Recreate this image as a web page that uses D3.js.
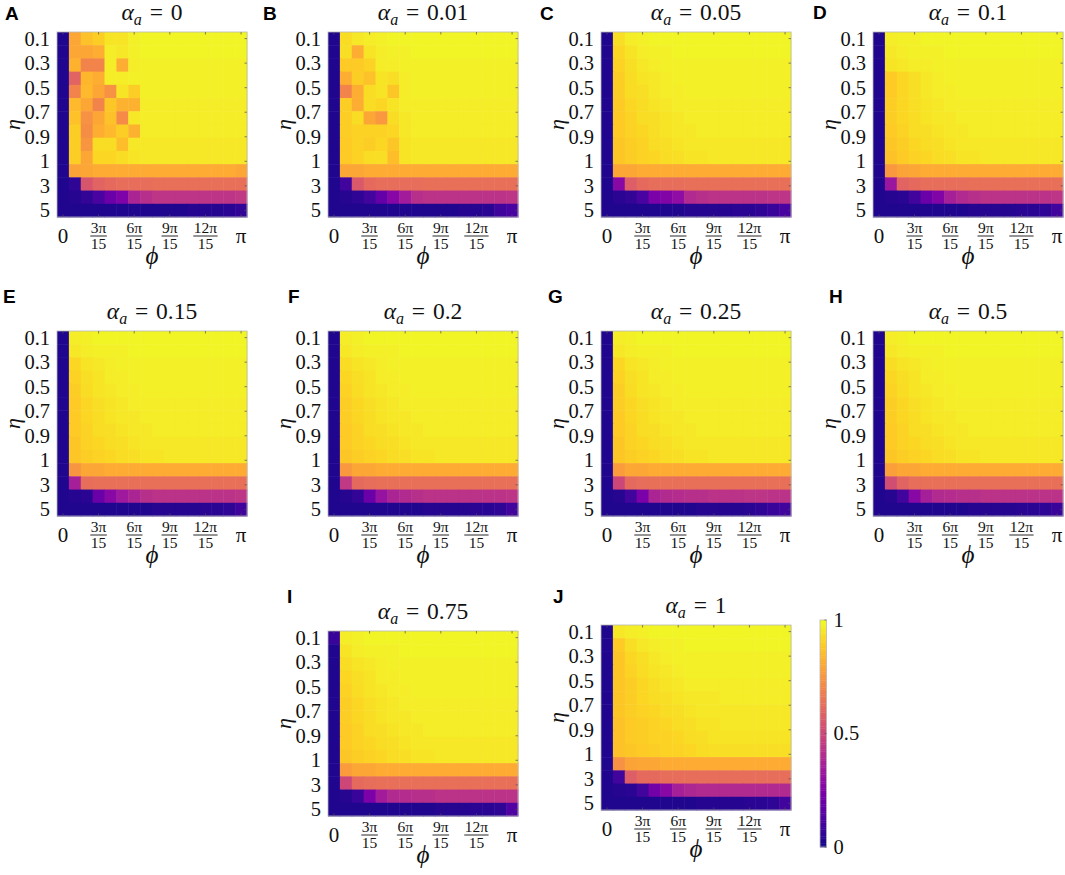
<!DOCTYPE html>
<html><head><meta charset="utf-8">
<script src="https://cdn.jsdelivr.net/npm/d3@7"></script>
<style>body{margin:0;background:#fff} svg{display:block}</style>
</head><body>
<svg id="chart" width="1065" height="875"></svg>
<script>
// ---------------- data ----------------
const panelLetters = ["A","B","C","D","E","F","G","H","I","J"];
const alphaLabels = ["0","0.01","0.05","0.1","0.15","0.2","0.25","0.5","0.75","1"];
const etaTickLabels = ["0.1","0.3","0.5","0.7","0.9","1","3","5"];
const phiTickCols = [0,3,6,9,12,15];
const phiTickNum = ["0","3π","6π","9π","12π","π"];
const phiTickDen = [null,"15","15","15","15",null];
const colorbarTicks = [0,0.5,1];
const colorbarLabels = ["0","0.5","1"];

// values in percent, rows = eta (top to bottom), cols = phi (0..pi)
const dataA = [
[3,80,87,90,95,95,98,99,99,99,99,99,99,99,99,99],
[3,80,80,82,97,96,98,99,99,99,99,99,99,99,99,99],
[3,83,70,70,97,82,97,98,98,98,98,98,98,98,98,98],
[3,60,84,82,97,97,98,98,98,98,98,98,98,98,98,98],
[3,70,85,80,74,95,90,98,98,98,98,98,98,98,98,98],
[3,85,80,70,88,83,83,97,97,97,97,97,97,97,97,97],
[3,87,74,80,87,72,96,97,97,97,97,97,97,97,97,97],
[3,90,73,82,85,90,83,97,97,97,97,97,97,97,97,97],
[3,90,75,93,93,86,96,96,96,96,96,96,96,96,96,96],
[3,90,80,92,92,93,95,96,96,96,96,96,96,96,96,96],
[3,79,80,81,81,81,81,81,81,81,81,81,81,81,81,80],
[3,6,55,60,62,63,63,63,64,64,64,64,64,64,64,64],
[3,4,7,12,20,25,38,42,44,44,44,44,44,44,44,45],
[3,3,3,3,3,3,3,3,3,3,3,4,4,4,5,7]];
const dataB = [
[3,93,96,97,98,99,99,99,99,99,99,99,99,99,99,99],
[3,94,82,95,97,98,98,99,99,99,99,99,99,99,99,99],
[3,89,89,91,97,97,98,98,98,98,98,98,98,98,98,98],
[3,82,90,87,95,94,97,98,98,98,98,98,98,98,98,98],
[3,70,82,93,95,88,97,98,98,98,98,98,98,98,98,98],
[3,90,82,93,92,95,97,97,97,97,97,97,97,97,97,97],
[3,90,93,80,76,93,96,97,97,97,97,97,97,97,97,97],
[3,90,91,91,91,92,96,97,97,97,97,97,97,97,97,97],
[3,89,91,90,92,88,95,96,96,96,96,96,96,96,96,96],
[3,89,91,93,94,86,95,96,96,96,96,96,96,96,96,96],
[3,80,80,81,81,81,81,81,81,81,81,81,81,81,81,81],
[3,10,56,62,63,63,63,63,64,64,64,64,64,64,64,64],
[3,4,6,10,18,27,35,42,43,43,43,43,43,43,43,44],
[3,3,3,3,3,3,3,3,3,3,3,4,4,5,9,12]];
const dataC = [
[3,94,97,98,99,99,99,99,99,99,99,99,99,99,99,99],
[3,92,95,97,98,98,99,99,99,99,99,99,99,99,99,99],
[3,91,94,96,97,98,98,98,98,98,98,98,98,98,98,98],
[3,90,93,95,96,97,98,98,98,98,98,98,98,98,98,98],
[3,90,93,94,96,97,97,98,98,98,98,98,98,98,98,98],
[3,89,92,93,95,96,97,97,97,97,97,97,97,97,97,97],
[3,89,91,93,94,95,96,97,97,97,97,97,97,97,97,97],
[3,89,91,92,94,95,96,96,97,97,97,97,97,97,97,97],
[3,88,90,91,93,94,95,96,96,96,96,96,96,96,96,96],
[3,88,90,91,92,93,94,95,95,96,96,96,96,96,96,96],
[3,80,80,81,81,81,81,81,81,81,81,81,81,81,81,81],
[3,28,58,62,63,63,63,64,64,64,64,64,64,64,64,64],
[3,5,7,12,24,26,30,40,42,43,43,43,43,43,44,44],
[3,3,3,3,3,3,3,4,4,4,4,5,5,6,8,12]];
const dataD = [
[3,97,98,98,99,99,99,99,99,99,99,99,99,99,99,99],
[3,96,97,98,98,98,99,99,99,99,99,99,99,99,99,99],
[3,95,96,97,97,98,98,98,98,98,98,98,98,98,98,98],
[3,89,92,94,96,97,98,98,98,98,98,98,98,98,98,98],
[3,89,92,94,96,97,97,98,98,98,98,98,98,98,98,98],
[3,90,92,94,95,96,97,97,97,97,97,97,97,97,97,97],
[3,90,92,93,95,96,96,97,97,97,97,97,97,97,97,97],
[3,89,91,93,94,95,96,96,97,97,97,97,97,97,97,97],
[3,88,90,92,93,94,95,96,96,96,96,96,96,96,96,96],
[3,87,89,91,92,93,94,95,95,96,96,96,96,96,96,96],
[3,76,79,80,81,81,81,81,81,81,81,81,81,81,81,81],
[3,33,60,62,63,63,63,63,64,64,64,64,64,64,64,64],
[3,4,5,10,20,26,36,40,42,43,43,43,43,43,43,44],
[3,3,3,3,3,3,3,3,4,4,4,4,5,5,6,10]];
const dataE = [
[3,97,98,99,99,99,99,99,99,99,99,99,99,99,99,99],
[3,96,97,98,98,98,99,99,99,99,99,99,99,99,99,99],
[3,92,95,96,97,98,98,98,98,98,98,98,98,98,98,98],
[3,91,94,95,97,97,98,98,98,98,98,98,98,98,98,98],
[3,90,93,95,96,97,97,98,98,98,98,98,98,98,98,98],
[3,89,92,94,95,96,97,97,97,97,97,97,97,97,97,97],
[3,89,92,93,95,96,96,97,97,97,97,97,97,97,97,97],
[3,89,91,93,94,95,96,96,97,97,97,97,97,97,97,97],
[3,88,91,92,93,94,95,96,96,96,96,96,96,96,96,96],
[3,88,90,91,92,93,94,95,95,96,96,96,96,96,96,96],
[3,75,80,80,81,81,81,81,81,81,81,81,81,81,81,81],
[3,36,63,64,64,64,64,64,64,64,64,64,64,64,64,64],
[3,4,5,20,28,34,38,42,43,43,43,43,43,43,43,44],
[3,3,3,3,3,3,3,3,4,4,4,4,5,5,6,9]];
const dataF = [
[3,97,98,99,99,99,99,99,99,99,99,99,99,99,99,99],
[3,96,97,98,98,98,99,99,99,99,99,99,99,99,99,99],
[3,93,95,96,97,98,98,98,98,98,98,98,98,98,98,98],
[3,92,94,95,97,97,98,98,98,98,98,98,98,98,98,98],
[3,91,93,95,96,97,97,98,98,98,98,98,98,98,98,98],
[3,90,92,94,95,96,97,97,97,97,97,97,97,97,97,97],
[3,90,92,93,95,96,96,97,97,97,97,97,97,97,97,97],
[3,89,91,93,94,95,96,96,97,97,97,97,97,97,97,97],
[3,89,91,92,93,94,95,96,96,96,96,96,96,96,96,96],
[3,88,90,91,92,93,94,95,95,96,96,96,96,96,96,96],
[3,76,80,80,81,81,81,81,81,81,81,81,81,81,81,81],
[3,45,62,63,64,64,64,64,64,64,64,64,64,64,64,64],
[3,4,7,20,32,38,40,42,43,43,43,43,43,43,43,44],
[3,3,3,3,3,3,3,3,4,4,4,4,5,5,6,10]];
const dataG = [
[3,97,98,99,99,99,99,99,99,99,99,99,99,99,99,99],
[3,96,97,98,98,98,99,99,99,99,99,99,99,99,99,99],
[3,92,95,96,97,98,98,98,98,98,98,98,98,98,98,98],
[3,91,94,95,97,97,98,98,98,98,98,98,98,98,98,98],
[3,90,93,95,96,97,97,98,98,98,98,98,98,98,98,98],
[3,90,92,94,95,96,97,97,97,97,97,97,97,97,97,97],
[3,89,92,93,95,96,96,97,97,97,97,97,97,97,97,97],
[3,89,91,93,94,95,96,96,97,97,97,97,97,97,97,97],
[3,88,91,92,93,94,95,96,96,96,96,96,96,96,96,96],
[3,88,90,91,92,93,94,95,95,96,96,96,96,96,96,96],
[3,77,80,80,81,81,81,81,81,81,81,81,81,81,81,81],
[3,50,62,63,64,64,64,64,64,64,64,64,64,64,64,64],
[3,4,10,24,38,40,41,42,42,43,43,43,44,44,43,43],
[3,3,3,3,3,3,3,3,4,4,4,4,5,6,8,10]];
const dataH = [
[3,97,98,99,99,99,99,99,99,99,99,99,99,99,99,99],
[3,96,97,98,98,98,99,99,99,99,99,99,99,99,99,99],
[3,93,95,96,97,98,98,98,98,98,98,98,98,98,98,98],
[3,92,94,95,97,97,98,98,98,98,98,98,98,98,98,98],
[3,91,93,95,96,97,97,98,98,98,98,98,98,98,98,98],
[3,90,92,94,95,96,97,97,97,97,97,97,97,97,97,97],
[3,90,92,93,95,96,96,97,97,97,97,97,97,97,97,97],
[3,89,91,93,94,95,96,96,97,97,97,97,97,97,97,97],
[3,89,91,92,93,94,95,96,96,96,96,96,96,96,96,96],
[3,88,90,91,92,93,94,95,95,96,96,96,96,96,96,96],
[3,78,80,80,81,81,81,81,81,81,81,81,81,81,81,81],
[3,52,60,63,64,64,64,64,64,64,64,64,64,64,64,64],
[3,4,10,28,36,40,41,42,42,43,43,43,43,43,43,43],
[3,3,3,3,3,3,3,3,4,4,4,4,5,5,6,8]];
const dataI = [
[8,97,98,99,99,99,99,99,99,99,99,99,99,99,99,99],
[3,95,97,98,98,98,99,99,99,99,99,99,99,99,99,99],
[3,93,95,96,97,98,98,98,98,98,98,98,98,98,98,98],
[3,92,94,95,97,97,98,98,98,98,98,98,98,98,98,98],
[3,91,93,95,96,97,97,98,98,98,98,98,98,98,98,98],
[3,90,92,94,95,96,97,97,97,97,97,97,97,97,97,97],
[3,90,92,93,95,96,96,97,97,97,97,97,97,97,97,97],
[3,89,91,93,94,95,96,96,97,97,97,97,97,97,97,97],
[3,89,91,92,93,94,95,96,96,96,96,96,96,96,96,96],
[3,88,90,91,92,93,94,95,95,96,96,96,96,96,96,96],
[3,77,80,80,81,81,81,81,81,81,81,81,81,81,81,81],
[3,50,62,63,64,64,64,64,64,64,64,64,64,64,64,64],
[3,4,8,24,35,40,41,42,42,43,43,43,43,43,43,43],
[3,3,3,3,3,3,3,3,3,4,4,4,5,5,6,14]];
const dataJ = [
[3,96,97,98,99,99,99,99,99,99,99,99,99,99,99,99],
[3,89,94,96,97,98,98,99,99,99,99,99,99,99,99,99],
[3,88,92,94,96,97,98,98,98,98,98,98,98,98,98,98],
[3,88,91,93,95,96,97,98,98,98,98,98,98,98,98,98],
[3,88,90,92,94,95,96,97,97,97,97,97,97,97,97,97],
[3,88,90,92,93,94,95,96,96,96,97,97,97,97,97,97],
[3,88,90,91,92,93,94,95,96,96,96,96,96,96,96,96],
[3,87,89,90,91,92,93,94,95,95,96,96,96,96,96,96],
[3,87,89,90,91,91,92,93,94,95,95,95,95,95,95,95],
[3,87,88,89,90,91,91,92,93,94,94,94,94,94,94,94],
[3,74,79,80,80,81,81,81,81,81,81,81,81,81,81,81],
[3,10,58,62,62,63,63,63,63,63,63,63,63,63,63,63],
[3,4,5,10,22,28,36,39,40,40,40,40,40,40,40,40],
[3,3,3,3,3,3,3,3,4,4,4,4,5,5,6,10]];
const panelData = [dataA,dataB,dataC,dataD,dataE,dataF,dataG,dataH,dataI,dataJ];

// ---------------- layout ----------------
const plotPos = [
 [57,32],[328,32],[601,32],[873,32],
 [57,331],[328,331],[601,331],[873,331],
 [328,631],[601,625]];
const letterPos = [
 [5,20],[263,20],[540,19.5],[813,19],
 [3,303],[288,303],[548,303],[829,303],
 [287,603],[553,603]];
const PW = 190, PH = 185;
const SERIF = "'Liberation Serif','DejaVu Serif',serif";
const SANS = "'Liberation Sans',Arial,sans-serif";

const svg = d3.select("#chart");
const x = d3.scaleBand().domain(d3.range(16)).range([0, PW]);
const y = d3.scaleBand().domain(d3.range(14)).range([0, PH]);
const color = d3.scaleSequential(d3.interpolatePlasma).domain([0, 100]);
const yTick = d3.scaleLinear().domain([0, etaTickLabels.length - 1])
  .range([y(0) + y.bandwidth()/2, y(13) + y.bandwidth()/2]);

panelData.forEach((vals, i) => {
  const [px, py] = plotPos[i];
  const g = svg.append("g").attr("transform", `translate(${px},${py})`);
  const cells = vals.flatMap((row, r) => row.map((v, c) => ({r, c, v})));
  g.selectAll("rect.cell").data(cells).join("rect")
    .attr("class", "cell")
    .attr("x", d => x(d.c)).attr("y", d => y(d.r))
    .attr("width", x.bandwidth() + 0.5).attr("height", y.bandwidth() + 0.5)
    .attr("fill", d => color(d.v));
  // frame
  g.append("rect").attr("x", 0).attr("y", 0).attr("width", PW).attr("height", PH)
    .attr("fill", "none").attr("stroke", "#b8b8b8").attr("stroke-width", 0.8);
  // inward ticks
  phiTickCols.forEach(c => {
    const cx = x(c) + x.bandwidth()/2;
    g.append("line").attr("x1", cx).attr("x2", cx).attr("y1", 0).attr("y2", 2.5)
      .attr("stroke", "#555").attr("stroke-width", 0.7);
    g.append("line").attr("x1", cx).attr("x2", cx).attr("y1", PH).attr("y2", PH - 2.5)
      .attr("stroke", "#555").attr("stroke-width", 0.7);
  });
  etaTickLabels.forEach((lab, k) => {
    const ty = yTick(k);
    g.append("line").attr("x1", PW).attr("x2", PW - 2.5).attr("y1", ty).attr("y2", ty)
      .attr("stroke", "#555").attr("stroke-width", 0.7);
    g.append("text").attr("x", -7).attr("y", ty).attr("dy", "0.34em")
      .attr("text-anchor", "end").attr("font-family", SERIF).attr("font-size", 20.5)
      .attr("fill", "#111").text(lab);
  });
  // x tick labels
  phiTickCols.forEach((c, k) => {
    const cx = x(c) + x.bandwidth()/2;
    if (phiTickDen[k] === null) {
      g.append("text").attr("x", cx).attr("y", PH + 25.5)
        .attr("text-anchor", "middle").attr("font-family", SERIF).attr("font-size", 21)
        .attr("fill", "#111").text(phiTickNum[k]);
    } else {
      const num = g.append("text").attr("x", cx).attr("y", PH + 16)
        .attr("text-anchor", "middle").attr("font-family", SERIF).attr("font-size", 15.5)
        .attr("fill", "#111").text(phiTickNum[k]);
      g.append("text").attr("x", cx).attr("y", PH + 32)
        .attr("text-anchor", "middle").attr("font-family", SERIF).attr("font-size", 15.5)
        .attr("fill", "#111").text(phiTickDen[k]);
      const w = Math.max(num.node().getComputedTextLength(), 15.5) + 1;
      g.append("line").attr("x1", cx - w/2).attr("x2", cx + w/2)
        .attr("y1", PH + 19).attr("y2", PH + 19).attr("stroke", "#111").attr("stroke-width", 0.9);
    }
  });
  // axis labels
  g.append("text").attr("x", PW/2).attr("y", PH + 47).attr("text-anchor", "middle")
    .attr("font-family", SERIF).attr("font-size", 25).attr("font-style", "italic")
    .attr("fill", "#111").text("ϕ");
  g.append("text").attr("transform", `translate(-37,${PH/2}) rotate(-90)`)
    .attr("text-anchor", "middle").attr("font-family", SERIF).attr("font-size", 22)
    .attr("font-style", "italic").attr("fill", "#111").text("η");
  // title
  const t = g.append("text").attr("x", PW/2).attr("y", -12).attr("text-anchor", "middle")
    .attr("font-family", SERIF).attr("font-size", 23.5).attr("fill", "#111");
  t.append("tspan").attr("font-style", "italic").text("α");
  t.append("tspan").attr("font-style", "italic").attr("font-size", 16).attr("dy", 5).text("a");
  t.append("tspan").attr("dy", -5).text("\u2004=\u2004" + alphaLabels[i]);
  // panel letter
  svg.append("text").attr("x", letterPos[i][0]).attr("y", letterPos[i][1])
    .attr("font-family", SANS).attr("font-weight", "bold").attr("font-size", 19)
    .attr("fill", "#000").text(panelLetters[i]);
});

// colorbar
const cbX = 820, cbY = 620, cbW = 6.5, cbH = 227;
const cbScale = d3.scaleLinear().domain([0, 1]).range([cbY + cbH, cbY]);
const cbSteps = d3.range(0, 1, 1/128);
svg.append("g").selectAll("rect").data(cbSteps).join("rect")
  .attr("x", cbX).attr("y", d => cbScale(d + 1/128))
  .attr("width", cbW).attr("height", cbH/128 + 0.4)
  .attr("fill", d => d3.interpolatePlasma(d + 0.5/128));
svg.append("rect").attr("x", cbX).attr("y", cbY).attr("width", cbW).attr("height", cbH)
  .attr("fill", "none").attr("stroke", "#b8b8b8").attr("stroke-width", 0.8);
colorbarTicks.forEach((v, k) => {
  svg.append("line").attr("x1", cbX + cbW).attr("x2", cbX + cbW - 2).attr("y1", cbScale(v)).attr("y2", cbScale(v))
    .attr("stroke", "#555").attr("stroke-width", 0.7);
  svg.append("text").attr("x", cbX + cbW + 7).attr("y", cbScale(v)).attr("dy", "0.34em")
    .attr("font-family", SERIF).attr("font-size", 20.5).attr("fill", "#111").text(colorbarLabels[k]);
});
</script>
</body></html>
